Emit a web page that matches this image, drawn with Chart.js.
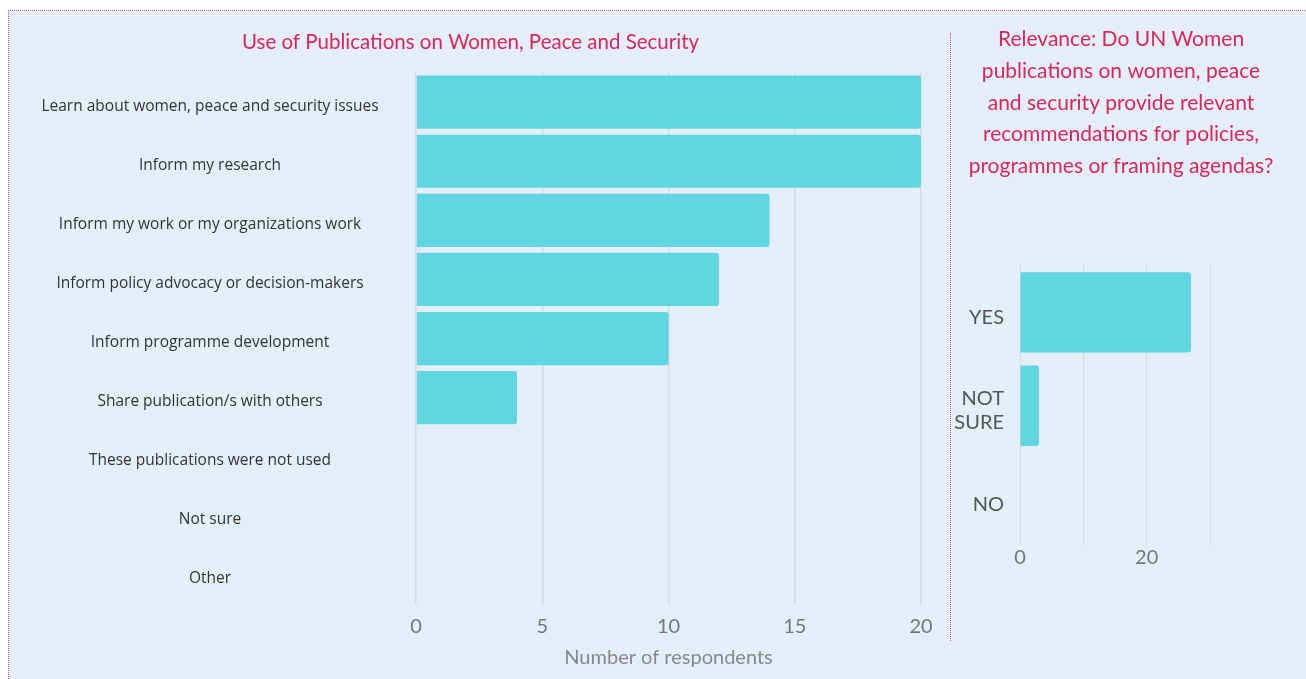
<!DOCTYPE html>
<html>
<head>
<meta charset="utf-8">
<script src="https://cdn.jsdelivr.net/npm/chart.js@4.4.1/dist/chart.umd.min.js"></script>
<style>
  body { margin: 0; background: #fff; width: 1306px; height: 679px; overflow: hidden; position: relative; }
  #panel { position: absolute; left: 8px; top: 10px; width: 1320px; height: 700px; background: #e4eef8; border-left: 1px dotted #e0517a; border-top: 1px dotted #e0517a; }
  #divider { position: absolute; left: 950px; top: 33px; height: 608px; border-left: 1px dotted #e0517a; }
  #useWrap { position: absolute; left: 20px; top: 20px; width: 925px; height: 655px; }
  #relWrap { position: absolute; left: 945px; top: 20px; width: 352px; height: 560px; }
</style>
</head>
<body>
<div id="panel"></div>
<div id="divider"></div>
<div id="useWrap"><canvas id="use-chart"></canvas></div>
<div id="relWrap"><canvas id="rel-chart"></canvas></div>
<script>
// data
var useLabels = ["Learn about women, peace and security issues", "Inform my research",
    "Inform my work or my organizations work", "Inform policy advocacy or decision-makers",
    "Inform programme development", "Share publication/s with others",
    "These publications were not used", "Not sure", "Other"];
var useValues = [20, 20, 14, 12, 10, 4, 0, 0, 0];
var useTicks = [0, 5, 10, 15, 20];

var relLabels = ["YES", ["NOT", "SURE"], "NO"];
var relValues = [27, 3, 0];
var relTicks = [0, 20];

var barColor = '#60d6e2';
var pink = '#d8275a';
var gridColor = '#d3dbe3';
var font = '"Open Sans", "Noto Sans", sans-serif';
var thin = 'Lato, "Open Sans", sans-serif';

Chart.defaults.font.family = font;
Chart.defaults.animation = false;

// widest y label, so labels can be centred in the axis box
var mctx = document.createElement('canvas').getContext('2d');
mctx.font = '15.5px ' + font;
var widest = 0;
useLabels.forEach(function(l) { widest = Math.max(widest, mctx.measureText(l).width); });

new Chart(document.getElementById("use-chart"), {
    type: 'bar',
    data: {
        labels: useLabels,
        datasets: [{
            data: useValues,
            backgroundColor: barColor,
            borderRadius: 3,
            barPercentage: 0.9,
            categoryPercentage: 1
        }]
    },
    options: {
        indexAxis: 'y',
        responsive: true,
        maintainAspectRatio: false,
        layout: { padding: { left: 0, right: 24, top: 0, bottom: 0 } },
        plugins: {
            legend: { display: false },
            tooltip: { enabled: false },
            title: {
                display: true,
                text: 'Use of Publications on Women, Peace and Security',
                color: pink,
                font: { family: thin, size: 20.5, weight: 'normal', lineHeight: 1.2 },
                padding: { top: 10, bottom: 18 }
            }
        },
        scales: {
            x: {
                min: 0,
                max: 20,
                afterBuildTicks: function(scale) {
                    scale.ticks = useTicks.map(function(v) { return { value: v }; });
                },
                afterFit: function(scale) { scale.height = 70.5; },
                grid: { color: gridColor, drawTicks: false, lineWidth: 1.5 },
                border: { display: false },
                ticks: { color: '#777', font: { family: thin, size: 20 }, padding: 10 },
                title: {
                    display: true,
                    text: 'Number of respondents',
                    color: '#888',
                    font: { family: thin, size: 20 },
                    padding: { top: 0, bottom: 5 }
                }
            },
            y: {
                afterFit: function(scale) { scale.width = 396; },
                grid: { display: false },
                border: { display: false },
                ticks: {
                    color: '#333',
                    font: { size: 15.5 },
                    crossAlign: 'center',
                    labelOffset: 4,
                    padding: 198 - widest / 2
                }
            }
        }
    }
});

new Chart(document.getElementById("rel-chart"), {
    type: 'bar',
    data: {
        labels: relLabels,
        datasets: [{
            data: relValues,
            backgroundColor: barColor,
            borderRadius: 3,
            barPercentage: 0.86,
            categoryPercentage: 1
        }]
    },
    options: {
        indexAxis: 'y',
        responsive: true,
        maintainAspectRatio: false,
        plugins: {
            legend: { display: false },
            tooltip: { enabled: false },
            title: {
                display: true,
                text: ['Relevance: Do UN Women', 'publications on women, peace', 'and security provide relevant',
                    'recommendations for policies,', 'programmes or framing agendas?'],
                color: pink,
                font: { family: thin, size: 21, weight: 'normal', lineHeight: 1.52 },
                padding: { top: 3, bottom: 83 }
            }
        },
        scales: {
            x: {
                min: 0,
                max: 30,
                ticks: {
                    stepSize: 10,
                    color: '#777',
                    font: { family: thin, size: 20 },
                    padding: 0,
                    callback: function(v) { return relTicks.indexOf(v) >= 0 ? v : ''; }
                },
                afterFit: function(scale) { scale.height = 34; },
                grid: { color: gridColor, drawTicks: false },
                border: { display: false }
            },
            y: {
                afterFit: function(scale) { scale.width = 75; },
                grid: { display: false },
                border: { display: false },
                ticks: { color: '#555', font: { family: thin, size: 20 }, padding: 8, labelOffset: 5 }
            },
            // empty axis that only keeps room free right of the plot
            spacer: {
                axis: 'y',
                type: 'linear',
                position: 'right',
                afterFit: function(scale) { scale.width = 87; },
                grid: { display: false },
                border: { display: false },
                ticks: { display: false }
            }
        }
    }
});
</script>
</body>
</html>
